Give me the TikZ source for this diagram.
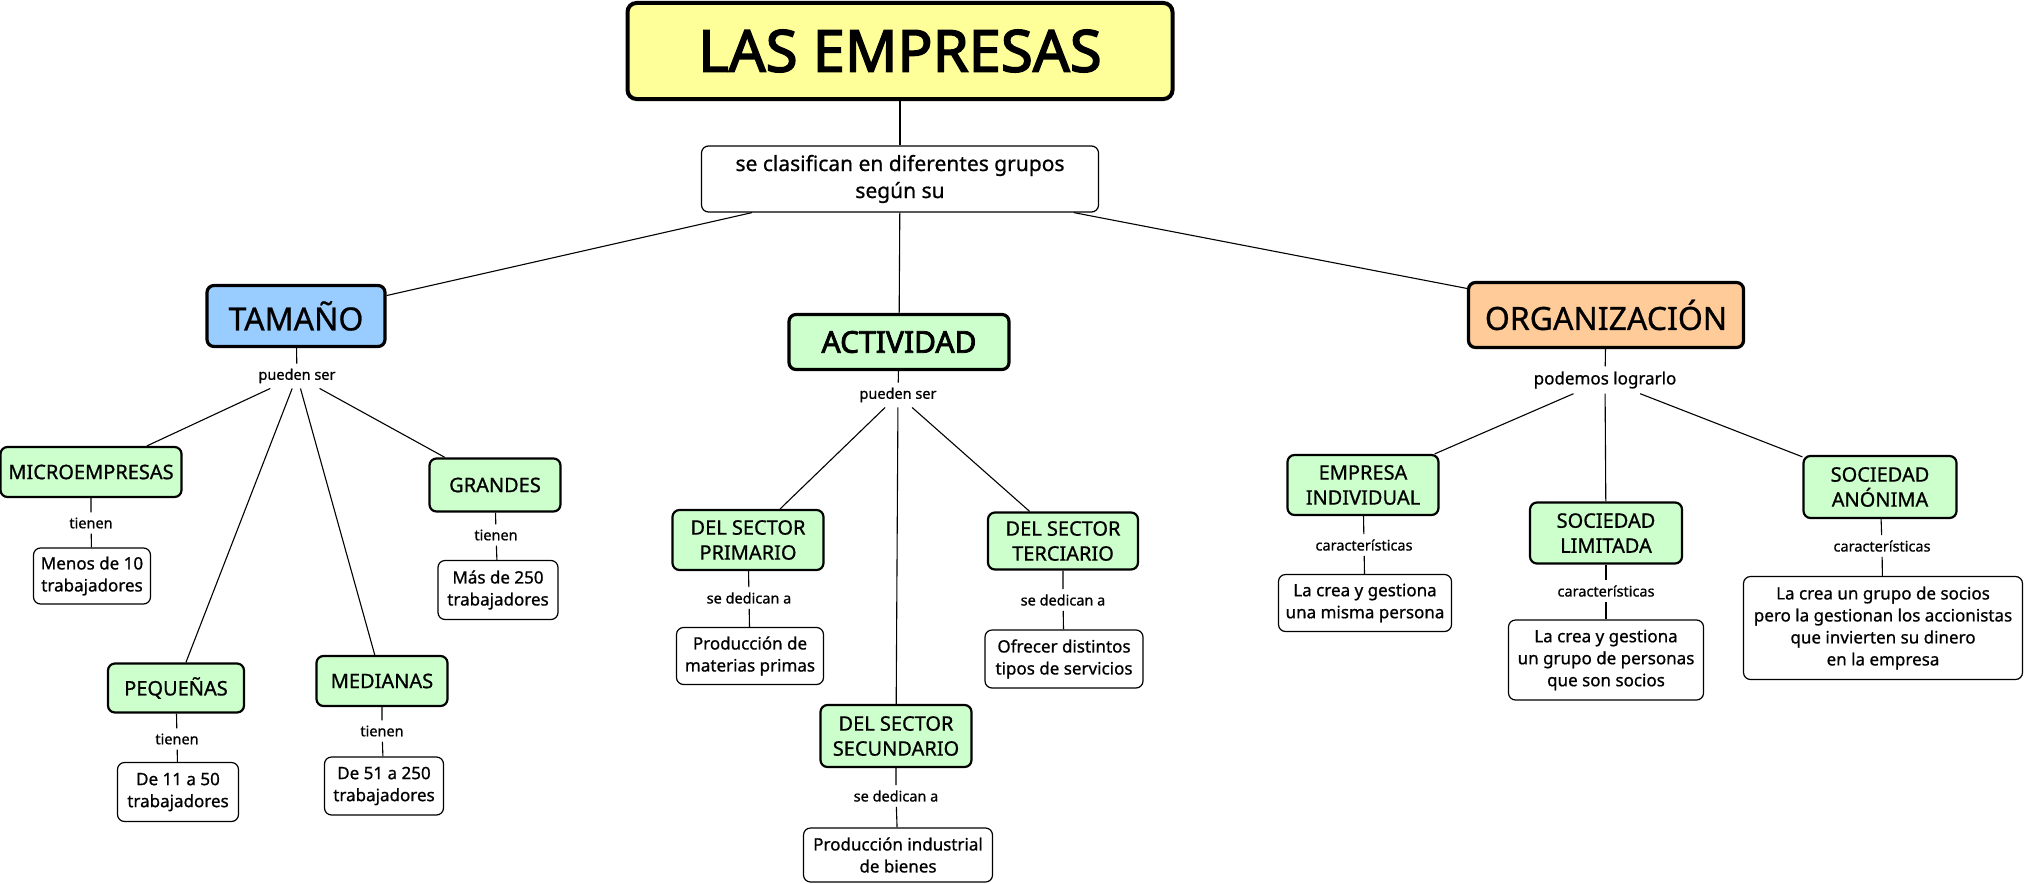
\documentclass[tikz,border=0pt]{standalone}
\usepackage{fontspec}
\setmainfont{Noto Sans}[UprightFeatures={FakeBold=0.8}, BoldFont={Noto Sans}, BoldFeatures={FakeBold=2.6}]
\usetikzlibrary{positioning}
\definecolor{rootfill}{RGB}{255,255,153}
\definecolor{sizefill}{RGB}{153,204,255}
\definecolor{kindfill}{RGB}{204,255,204}
\definecolor{orgfill}{RGB}{255,204,153}

\begin{document}
\begin{tikzpicture}[x=1pt, y=-1pt,
  box/.style={draw, rounded corners=7pt, align=center, inner sep=0pt},
  rootbox/.style={box, fill=rootfill, line width=4pt, rounded corners=9pt, font=\bfseries\fontsize{58}{66}\selectfont},
  groupbox/.style={box, line width=3.2pt, font=\fontsize{32}{38}\selectfont},
  kindbox/.style={box, fill=kindfill, line width=2.2pt, font=\fontsize{20}{25}\selectfont},
  factbox/.style={box, fill=white, line width=1.2pt, font=\fontsize{17}{22}\selectfont},
  linktext/.style={inner sep=5pt, font=\fontsize{14.5}{17}\selectfont},
  conn/.style={line width=1.1pt}]
\useasboundingbox (0,0) rectangle (2025,883);
% top
\node[rootbox, minimum width=545, minimum height=96] (root) at (900,51) {LAS EMPRESAS};
\node[factbox, minimum width=397, minimum height=66, font=\fontsize{21}{27}\selectfont] (clasif) at (900,179) {se clasifican en diferentes grupos\\según su};
% groups
\node[groupbox, fill=sizefill, minimum width=178, minimum height=61] (size) at (296,316) {TAMAÑO};
\node[groupbox, fill=kindfill, minimum width=220, minimum height=55, font=\bfseries\fontsize{30}{36}\selectfont] (activ) at (899,342) {ACTIVIDAD};
\node[groupbox, fill=orgfill, minimum width=275, minimum height=65] (org) at (1606,315) {ORGANIZACIÓN};
\draw[conn] (root) -- (clasif);
\draw[conn] (clasif) -- (size);
\draw[conn] (clasif) -- (activ);
\draw[conn] (clasif) -- (org);
% tamano
\node[linktext] (sizeverb) at (297,376) {pueden ser};
\node[kindbox, minimum width=181, minimum height=50] (micro) at (91,472) {MICROEMPRESAS};
\node[linktext] (microverb) at (91,523) {tienen};
\node[factbox, minimum width=117, minimum height=56] (microfact) at (92,576) {Menos de 10\\trabajadores};
\node[kindbox, minimum width=131, minimum height=53] (grand) at (495,485) {GRANDES};
\node[linktext] (grandverb) at (496,535) {tienen};
\node[factbox, minimum width=120, minimum height=59] (grandfact) at (498,590) {Más de 250\\trabajadores};
\node[kindbox, minimum width=136, minimum height=49] (small) at (176,688) {PEQUEÑAS};
\node[linktext] (smallverb) at (177,739) {tienen};
\node[factbox, minimum width=121, minimum height=59] (smallfact) at (178,792) {De 11 a 50\\trabajadores};
\node[kindbox, minimum width=131, minimum height=50] (mid) at (382,681) {MEDIANAS};
\node[linktext] (midverb) at (382,731) {tienen};
\node[factbox, minimum width=119, minimum height=58] (midfact) at (384,786) {De 51 a 250\\trabajadores};
\draw[conn] (size) -- (sizeverb);
\foreach \k in {micro, grand, small, mid} {
  \draw[conn] (sizeverb) -- (\k);
  \draw[conn] (\k) -- (\k verb) -- (\k fact);
}
% actividad
\node[linktext] (activverb) at (898,395) {pueden ser};
\node[kindbox, minimum width=151, minimum height=60] (prim) at (748,540) {DEL SECTOR\\PRIMARIO};
\node[linktext] (primverb) at (749,598) {se dedican a};
\node[factbox, minimum width=147, minimum height=57] (primfact) at (750,656) {Producción de\\materias primas};
\node[kindbox, minimum width=150, minimum height=57] (terc) at (1063,541) {DEL SECTOR\\TERCIARIO};
\node[linktext] (tercverb) at (1063,600) {se dedican a};
\node[factbox, minimum width=158, minimum height=58] (tercfact) at (1064,659) {Ofrecer distintos\\tipos de servicios};
\node[kindbox, minimum width=151, minimum height=62] (secu) at (896,736) {DEL SECTOR\\SECUNDARIO};
\node[linktext] (secuverb) at (896,796) {se dedican a};
\node[factbox, minimum width=189, minimum height=54] (secufact) at (898,855) {Producción industrial\\de bienes};
\draw[conn] (activ) -- (activverb);
\foreach \k in {prim, terc, secu} {
  \draw[conn] (activverb) -- (\k);
  \draw[conn] (\k) -- (\k verb) -- (\k fact);
}
% organizacion
\node[linktext, font=\fontsize{17}{20}\selectfont] (orgverb) at (1605,380) {podemos lograrlo};
\node[kindbox, minimum width=151, minimum height=60] (indiv) at (1363,485) {EMPRESA\\INDIVIDUAL};
\node[linktext] (indivverb) at (1364,545) {características};
\node[factbox, minimum width=173, minimum height=57] (indivfact) at (1365,603) {La crea y gestiona\\una misma persona};
\node[kindbox, minimum width=152, minimum height=61] (ltd) at (1606,533) {SOCIEDAD\\LIMITADA};
\node[linktext] (ltdverb) at (1606,591) {características};
\node[factbox, minimum width=195, minimum height=80] (ltdfact) at (1606,660) {La crea y gestiona\\un grupo de personas\\que son socios};
\node[kindbox, minimum width=153, minimum height=62] (anon) at (1880,487) {SOCIEDAD\\ANÓNIMA};
\node[linktext] (anonverb) at (1882,546) {características};
\node[factbox, minimum width=279, minimum height=103] (anonfact) at (1883,628) {La crea un grupo de socios\\pero la gestionan los accionistas\\que invierten su dinero\\en la empresa};
\draw[conn] (org) -- (orgverb);
\foreach \k in {indiv, ltd, anon} {
  \draw[conn] (orgverb) -- (\k);
  \draw[conn] (\k) -- (\k verb) -- (\k fact);
}
\end{tikzpicture}
\end{document}
